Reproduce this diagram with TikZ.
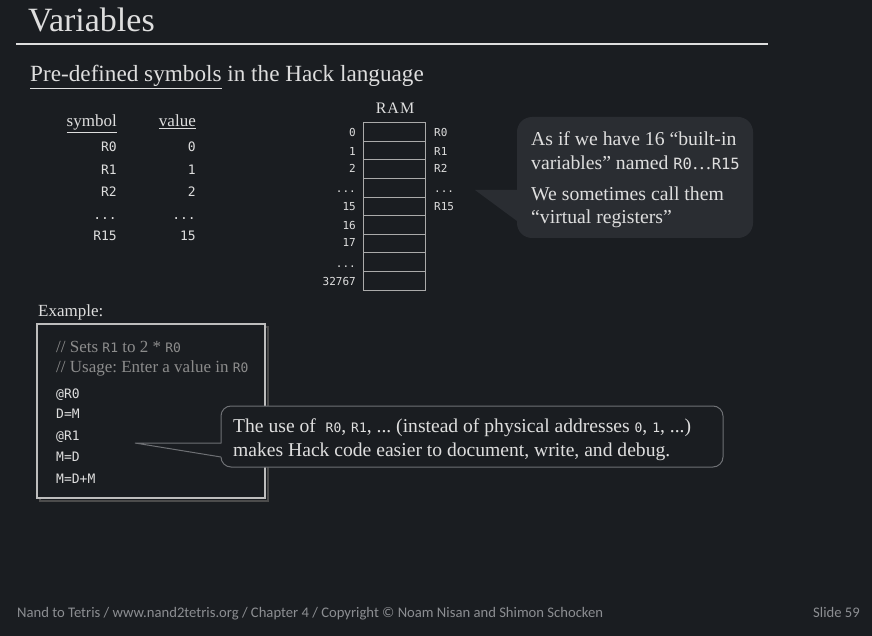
\documentclass[tikz,border=0pt]{standalone}
\usepackage{fontspec}
\setmainfont{Liberation Serif}
\setmonofont{DejaVu Sans Mono}
\newfontfamily\serifface{Liberation Serif}
\newfontfamily\footfont{Carlito}
\frenchspacing
\definecolor{bg}{RGB}{26,29,33}
\definecolor{fg}{RGB}{222,222,222}
\definecolor{cmt}{RGB}{140,140,140}
\definecolor{calfill}{RGB}{42,45,50}
\definecolor{caledge}{RGB}{110,112,116}
\definecolor{ramline}{RGB}{170,170,170}
\definecolor{footc}{RGB}{140,142,146}
\tikzset{
  txt/.style={inner sep=0pt, text=fg},
  serif/.style={txt, font=\serifface\fontsize{#1}{#1}\selectfont},
  mono/.style={txt, font=\ttfamily\fontsize{#1}{#1}\selectfont},
  ramcell/.style={draw=ramline, line width=0.8pt},
  calledge/.style={draw=caledge, line width=1pt},
}
\newcommand{\ul}[1]{\underline{#1}}
\newcommand{\mydots}{...}
\newcommand{\tto}[2]{{\ttfamily\fontsize{#1}{#1}\selectfont #2}}
\begin{document}
\begin{tikzpicture}[x=1pt,y=-1pt]
\fill[bg] (0,0) rectangle (872,636);
\useasboundingbox (0,0) rectangle (872,636);
% title
\node[serif=34, anchor=base west] (title) at (28,32) {Variables};
\coordinate (rl) at (16,44);
\coordinate (rr) at (768,44);
\draw[fg, line width=1.6pt] (rl) -- (rr);
\node[serif=23.2, anchor=base west] (sub) at (30,82) {\ul{Pre-defined symbols} in the Hack language};
% table
\node[serif=17, anchor=base east] (hsym) at (117,127) {\ul{symbol}};
\node[serif=17, anchor=base east] (hval) at (196,127) {\ul{value}};
\foreach \s/\v/\y [count=\i] in {R0/0/152,R1/1/175,R2/2/197,\mydots/\mydots/220,R15/15/241}{
  \node[mono=13, anchor=base east] (s\i) at (117,\y) {\s};
  \node[mono=13, anchor=base east] (v\i) at (196,\y) {\v};
}
% RAM
\node[serif=16, anchor=base] (ramt) at (395,114) {R\kern1ptA\kern1ptM};
\foreach \i in {0,...,8}{
  \pgfmathsetmacro{\ya}{122.7+\i*18.6}
  \pgfmathsetmacro{\yb}{122.7+(\i+1)*18.6}
  \draw[ramcell] (363,\ya) rectangle (425,\yb);
  \coordinate (c\i) at (363,\ya);
}
\foreach \a/\y [count=\i] in {0/137,1/156,2/173,\mydots/193,15/211,16/230,17/247,\mydots/267,32767/285}{
  \node[mono=11, anchor=base east] (addr\i) at (356,\y) {\a};
}
\foreach \a/\y [count=\i] in {R0/137,R1/156,R2/173,\mydots/193,R15/211}{
  \node[mono=11, anchor=base west] (reg\i) at (434,\y) {\a};
}
% callout 1
\coordinate (t1) at (475,190);
\fill[calfill, rounded corners=15pt] (517,117) rectangle (753,238);
\fill[calfill] (t1) -- (520,190) -- (520,221) -- (517,221) -- cycle;
\node[serif=19.7, anchor=base west] (ca1) at (531,146) {As if we have 16 “built-in};
\node[serif=19.7, anchor=base west] (ca2) at (531,170) {variables” named \tto{15.5}{R0}…\tto{15.5}{R15}};
\node[serif=19.7, anchor=base west] (ca3) at (531,201) {We sometimes call them};
\node[serif=19.7, anchor=base west] (ca4) at (531,224) {“virtual registers”};
% example
\node[serif=17, anchor=base west] (ex) at (38,316) {Example:};
\draw[black!70, line width=2pt] (40,327) rectangle (268,501);
\draw[fg!85!black, line width=1.6pt, fill=bg] (37,324) rectangle (265,498);
\node[serif=17, anchor=base west, text=cmt] (cm1) at (56,352) {// Sets \tto{13}{R1} to 2 * \tto{13}{R0}};
\node[serif=17, anchor=base west, text=cmt] (cm2) at (56,372) {// Usage: Enter a value in \tto{13}{R0}};
\foreach \c/\y [count=\i] in {@R0/398,D=M/418,@R1/440,M=D/461,M=D+M/483}{
  \node[mono=13, anchor=base west] (code\i) at (56,\y) {\c};
}
% callout 2
\coordinate (t2) at (135,443);
\coordinate (p2a) at (221,443);
\coordinate (p2b) at (221,457);
\draw[calledge, fill=bg, rounded corners=10pt] (221,406) rectangle (723,467);
\fill[bg] (t2) -- (222,443.5) -- (222,456.5) -- cycle;
\fill[bg] (219.5,443.5) rectangle (222.5,456.5);
\draw[calledge] (p2a) -- (t2) -- (p2b);
\node[serif=19.6, anchor=base west] (cb1) at (233,432) {The use of \ \tto{13}{R0}, \tto{13}{R1}, ... (instead of physical addresses \tto{13}{0}, \tto{13}{1}, ...)};
\node[serif=19.6, anchor=base west] (cb2) at (233,456) {makes Hack code easier to document, write, and debug.};
% footer
\node[txt, text=footc, font=\footfont\fontsize{14.65}{14.65}\selectfont, anchor=base west] (foot) at (17,617) {Nand to Tetris / www.nand2tetris.org / Chapter 4 / Copyright © Noam Nisan and Shimon Schocken};
\node[txt, text=footc, font=\footfont\fontsize{14.65}{14.65}\selectfont, anchor=base east] (slide) at (860,617) {Slide 59};
\end{tikzpicture}
\end{document}
